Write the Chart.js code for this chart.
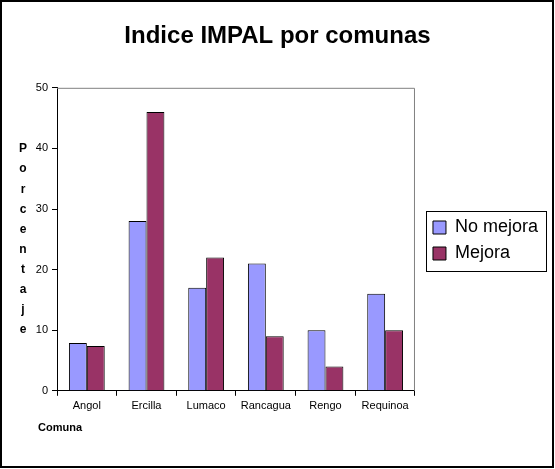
<!DOCTYPE html>
<html>
<head>
<meta charset="utf-8">
<script src="https://cdn.jsdelivr.net/npm/chart.js@4"></script>
<style>
  html, body { margin: 0; padding: 0; background: #fff; }
  #wrap { width: 555px; height: 469px; }
</style>
</head>
<body>
<div id="wrap"><canvas id="chart" width="555" height="469"></canvas></div>
<script>
// ── Data ─────────────────────────────────────
const COMUNAS   = ['Angol', 'Ercilla', 'Lumaco', 'Rancagua', 'Rengo', 'Requinoa'];
const NO_MEJORA = [7.9, 28, 17, 21, 10, 16];
const MEJORA    = [7.4, 46, 22, 9, 4, 10];
const Y_TICKS   = [0, 10, 20, 30, 40, 50];

const TITLE   = 'Indice IMPAL por comunas';
const Y_LABEL = 'Porcentaje';
const X_LABEL = 'Comuna';

const FONT = 'Arial, "Liberation Sans", sans-serif';
const LEGEND_DX = 10;   // gap between plot frame and legend box
const LEGEND_DY = 32;   // legend sits a bit lower than Chart.js centres it

// ── Extras: outer frame, plot frame, legend box, axis labels ──
const decorations = {
  id: 'decorations',
  beforeDraw(chart) {
    // nudge the legend into place
    const legend = chart.legend;
    if (legend && !legend._shifted) {
      const draw = legend.draw;
      legend.draw = function (area) {
        const ctx = this.ctx;
        ctx.save();
        ctx.translate(LEGEND_DX, LEGEND_DY);
        draw.call(this, area);
        ctx.restore();
      };
      legend._shifted = true;
    }
  },
  beforeDatasetsDraw(chart) {
    const { ctx, chartArea: a } = chart;
    ctx.save();
    ctx.strokeStyle = '#808080';
    ctx.lineWidth = 1;
    ctx.beginPath();
    ctx.moveTo(a.left, a.top + 0.5);
    ctx.lineTo(a.right - 0.5, a.top + 0.5);
    ctx.lineTo(a.right - 0.5, a.bottom);
    ctx.stroke();
    ctx.restore();
  },
  afterDraw(chart) {
    const { ctx, legend } = chart;
    ctx.save();

    // legend frame
    const boxes = legend.legendHitBoxes;
    if (boxes && boxes.length) {
      const top = boxes[0].top - 8 + LEGEND_DY;
      const last = boxes[boxes.length - 1];
      const bottom = last.top + last.height + 8 + LEGEND_DY;
      const left = legend.left + LEGEND_DX + 1;
      ctx.strokeStyle = '#000';
      ctx.lineWidth = 1;
      ctx.strokeRect(Math.round(left) + 0.5, Math.round(top) + 0.5, 120, Math.round(bottom - top));
    }

    // vertical stacked y label
    ctx.fillStyle = '#000';
    ctx.font = `bold 12px ${FONT}`;
    ctx.textAlign = 'center';
    ctx.textBaseline = 'middle';
    Y_LABEL.split('').forEach((ch, i) => {
      ctx.fillText(ch, 23, 149 + i * 20.1);
    });

    // x label
    ctx.font = `bold 11px ${FONT}`;
    ctx.textAlign = 'left';
    ctx.fillText(X_LABEL, 38, 428);

    // outer frame
    ctx.lineWidth = 2;
    ctx.strokeRect(1, 1, 552, 466);
    ctx.restore();
  }
};

new Chart(document.getElementById('chart'), {
  type: 'bar',
  data: {
    labels: COMUNAS,
    datasets: [
      {
        label: 'No mejora',
        data: NO_MEJORA,
        backgroundColor: '#9999FF',
        borderColor: '#000',
        borderWidth: 1,
        categoryPercentage: 0.6,
        barPercentage: 1.0
      },
      {
        label: 'Mejora',
        data: MEJORA,
        backgroundColor: '#993366',
        borderColor: '#000',
        borderWidth: 1,
        categoryPercentage: 0.6,
        barPercentage: 1.0
      }
    ]
  },
  options: {
    responsive: false,
    animation: false,
    layout: { padding: { top: 0, right: 17, bottom: 52, left: 17 } },
    plugins: {
      title: {
        display: true,
        text: TITLE,
        color: '#000',
        font: { family: FONT, size: 24, weight: 'bold', lineHeight: 1.2 },
        padding: { top: 22, bottom: 37 }
      },
      legend: {
        position: 'right',
        align: 'center',
        labels: {
          color: '#000',
          font: { family: FONT, size: 18 },
          boxWidth: 13,
          boxHeight: 13,
          padding: 8
        }
      },
      tooltip: { enabled: false }
    },
    scales: {
      x: {
        border: { color: '#000', width: 1 },
        grid: { offset: true, drawOnChartArea: false, tickLength: 5, color: '#000' },
        ticks: { color: '#000', font: { family: FONT, size: 11 }, padding: 4, maxRotation: 0 }
      },
      y: {
        min: 0,
        max: 50,
        afterBuildTicks(scale) {
          scale.ticks = Y_TICKS.map(v => ({ value: v }));
        },
        afterFit(scale) { scale.width = 40; },
        border: { color: '#000', width: 1 },
        grid: { drawOnChartArea: false, tickLength: 5, color: '#000' },
        ticks: { color: '#000', font: { family: FONT, size: 11 }, padding: 4 }
      }
    }
  },
  plugins: [decorations]
});
</script>
</body>
</html>
